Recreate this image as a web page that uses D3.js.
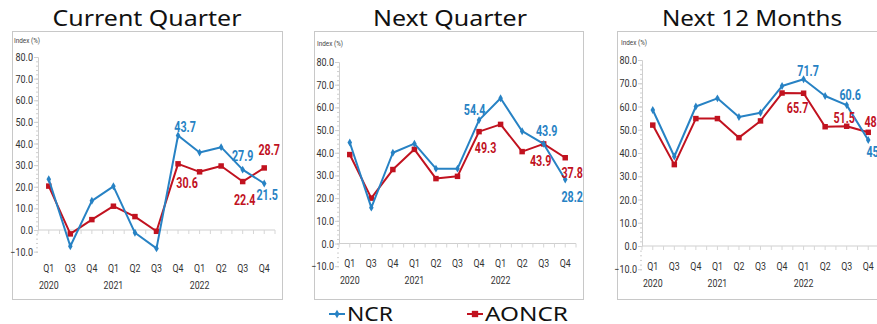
<!DOCTYPE html>
<html>
<head>
<meta charset="utf-8">
<script src="https://cdn.jsdelivr.net/npm/d3@7/dist/d3.min.js"></script>
<style>
  html, body { margin: 0; padding: 0; background: #ffffff; }
  svg { display: block; }
</style>
</head>
<body>
<svg id="chart" width="877" height="324"></svg>
<script>
// Quarter labels along the x axis and the year shown under the first quarter of each year
const quarters = ["Q1", "Q3", "Q4", "Q1", "Q2", "Q3", "Q4", "Q1", "Q2", "Q3", "Q4"];
const years    = ["2020", "", "", "2021", "", "", "", "2022", "", "", ""];
const yTicks   = [-10, 0, 10, 20, 30, 40, 50, 60, 70, 80];
const seriesNames = ["NCR", "AONCR"];
const panelTitles = ["Current Quarter", "Next Quarter", "Next 12 Months"];

// Index (%) values per panel
const ncrCurrent   = [23.5, -7.5, 13.5, 20.2, -1.3, -8.5, 43.7, 35.8, 38.3, 27.9, 21.5];
const aoncrCurrent = [20.3, -1.8, 4.8, 11.0, 6.2, -0.6, 30.6, 26.9, 29.6, 22.4, 28.7];
const ncrNextQ     = [44.5, 15.8, 40.0, 44.0, 33.0, 33.0, 54.4, 64.0, 49.5, 43.9, 28.2];
const aoncrNextQ   = [39.2, 20.0, 32.6, 41.5, 28.6, 29.6, 49.3, 52.5, 40.5, 43.9, 37.8];
const ncr12M       = [58.5, 38.5, 60.0, 63.5, 55.5, 57.3, 68.8, 71.7, 64.5, 60.6, 45.6];
const aoncr12M     = [52.0, 35.0, 54.8, 54.8, 46.6, 53.8, 65.8, 65.7, 51.3, 51.5, 48.9];

// Which points carry a value label: [series, index]
const labelsCurrent = [["NCR", 6], ["AONCR", 6], ["NCR", 9], ["AONCR", 10], ["AONCR", 9], ["NCR", 10]];
const labelsNextQ   = [["NCR", 6], ["AONCR", 6], ["NCR", 9], ["AONCR", 9], ["AONCR", 10], ["NCR", 10]];
const labels12M     = [["NCR", 7], ["AONCR", 7], ["NCR", 9], ["AONCR", 9], ["AONCR", 10], ["NCR", 10]];

const COLORS = { NCR: "#2782c4", AONCR: "#c1121f" };
const TICK_FONT = "Roboto, 'Liberation Sans', sans-serif";
const TITLE_FONT = "'Noto Sans', 'Open Sans', sans-serif";

// Layout of each panel (frame, plot extents, label offsets)
const layouts = [
  { frame: [12, 31, 270, 268], x0: 38, x1: 275, yZero: 230, yTop: 57, qBase: 272, yrBase: 289,
    titleX: 147, titleW: 189, idx: [14, 43],
    offsets: [[7, -3.5], [9, 24], [0, -9], [5, -13], [2, 23.5], [3, 16.5]] },
  { frame: [314, 31, 269, 268], x0: 339, x1: 576, yZero: 243.5, yTop: 62, qBase: 267, yrBase: 284,
    titleX: 450, titleW: 154, idx: [317, 46],
    offsets: [[-4.5, -5], [6.5, 21.5], [3, -8], [-3, 22], [7, 20], [7, 22.5]] },
  { frame: [617, 31, 280, 268], x0: 642, x1: 879, yZero: 246, yTop: 60, qBase: 270, yrBase: 287,
    titleX: 752, titleW: 180, idx: [621, 45],
    offsets: [[4.5, -3], [-6, 20], [3.5, -5], [-2.5, -3], [7, -5], [9, 17]] }
];

const panelData = [
  { NCR: ncrCurrent, AONCR: aoncrCurrent, labels: labelsCurrent },
  { NCR: ncrNextQ,   AONCR: aoncrNextQ,   labels: labelsNextQ },
  { NCR: ncr12M,     AONCR: aoncr12M,     labels: labels12M }
];

const svg = d3.select("#chart");

// Text drawn with a horizontal squeeze to get a condensed look
function squeezed(g, x, y, str, opts) {
  return g.append("text")
    .attr("transform", `translate(${x},${y}) scale(${opts.sx || 1},1)`)
    .attr("text-anchor", opts.anchor || "middle")
    .attr("font-family", opts.family || TICK_FONT)
    .attr("font-size", opts.size)
    .attr("font-weight", opts.weight || "normal")
    .attr("fill", opts.fill || "#333")
    .text(str);
}

panelData.forEach((pd, p) => {
  const L = layouts[p];
  const g = svg.append("g");
  const [fx, fy, fw, fh] = L.frame;

  // Panel frame
  g.append("rect")
    .attr("x", fx + 0.5).attr("y", fy + 0.5)
    .attr("width", fw).attr("height", fh)
    .attr("fill", "#fff").attr("stroke", "#c8c8c8").attr("stroke-width", 1);

  // Title
  g.append("text")
    .attr("x", L.titleX).attr("y", 26)
    .attr("text-anchor", "middle")
    .attr("font-family", TITLE_FONT)
    .attr("font-size", 22)
    .attr("font-weight", 400)
    .attr("fill", "#111")
    .attr("textLength", L.titleW)
    .attr("lengthAdjust", "spacingAndGlyphs")
    .text(panelTitles[p]);

  const x = d3.scaleBand().domain(d3.range(quarters.length)).range([L.x0, L.x1]).padding(0);
  const y = d3.scaleLinear().domain([0, 80]).range([L.yZero, L.yTop]);
  const cx = i => x(i) + x.bandwidth() / 2;

  // "Index (%)" caption
  squeezed(g, L.idx[0], L.idx[1], "Index (%)", { size: 7.5, sx: 0.85, anchor: "start", fill: "#444" });

  // Y axis: line, major and minor ticks, labels
  const yAxis = d3.axisLeft(y).tickValues(d3.range(-10, 81, 2)).tickSize(2).tickFormat("");
  const ya = g.append("g").attr("transform", `translate(${L.x0},0)`).call(yAxis);
  ya.select(".domain").attr("stroke", "#cfcfcf");
  ya.selectAll(".tick line").attr("stroke", "#cfcfcf");
  const yMajor = d3.axisLeft(y).tickValues(yTicks).tickSize(4).tickFormat("");
  const ym = g.append("g").attr("transform", `translate(${L.x0},0)`).call(yMajor);
  ym.select(".domain").remove();
  ym.selectAll(".tick line").attr("stroke", "#cfcfcf");
  yTicks.forEach(v => {
    squeezed(g, L.x0 - 5, y(v) + 4, d3.format(".1f")(v), { size: 11, sx: 0.82, anchor: "end", fill: "#333" });
  });

  // X axis along the zero line with light tick marks
  const xa = g.append("g").attr("transform", `translate(0,${y(0)})`);
  xa.append("line").attr("x1", L.x0).attr("x2", L.x1).attr("stroke", "#cfcfcf").attr("stroke-width", 1);
  d3.range(0, quarters.length * 2 + 1).forEach(k => {
    const tx = L.x0 + k * x.bandwidth() / 2;
    xa.append("line").attr("x1", tx).attr("x2", tx).attr("y1", 0).attr("y2", 4)
      .attr("stroke", "#d6d6d6").attr("stroke-width", 1);
  });
  quarters.forEach((q, i) => {
    squeezed(g, cx(i), L.qBase, q, { size: 11, sx: 0.8, fill: "#333" });
    if (years[i]) squeezed(g, cx(i), L.yrBase, years[i], { size: 11, sx: 0.8, fill: "#333" });
  });

  // Lines and markers: AONCR underneath, NCR on top
  const line = d3.line().x((d, i) => cx(i)).y(d => y(d));
  ["AONCR", "NCR"].forEach(name => {
    const vals = pd[name];
    g.append("path").datum(vals)
      .attr("d", line).attr("fill", "none")
      .attr("stroke", COLORS[name]).attr("stroke-width", 2)
      .attr("stroke-linejoin", "round");
    const sym = d3.symbol().type(name === "NCR" ? d3.symbolDiamond : d3.symbolSquare)
      .size(name === "NCR" ? 18 : 30);
    g.selectAll(null).data(vals).enter().append("path")
      .attr("d", sym)
      .attr("transform", (d, i) => `translate(${cx(i)},${y(d)})`)
      .attr("fill", COLORS[name]);
  });

  // Value labels
  pd.labels.forEach(([name, i], k) => {
    const v = pd[name][i];
    const [dx, dy] = L.offsets[k];
    squeezed(g, cx(i) + dx, y(v) + dy, d3.format(".1f")(v),
      { size: 14.5, sx: 0.74, weight: "bold", fill: COLORS[name] });
  });
});

// Legend
const legendItems = [
  { name: seriesNames[0], x: 329, textW: 46 },
  { name: seriesNames[1], x: 467, textW: 83 }
];
const lg = svg.append("g");
legendItems.forEach(it => {
  lg.append("line").attr("x1", it.x).attr("x2", it.x + 16).attr("y1", 314).attr("y2", 314)
    .attr("stroke", COLORS[it.name]).attr("stroke-width", 2);
  lg.append("path")
    .attr("d", d3.symbol().type(it.name === "NCR" ? d3.symbolDiamond : d3.symbolSquare).size(it.name === "NCR" ? 22 : 40))
    .attr("transform", `translate(${it.x + 8},314)`)
    .attr("fill", COLORS[it.name]);
  lg.append("text")
    .attr("x", it.x + 18).attr("y", 320.5)
    .attr("font-family", TITLE_FONT)
    .attr("font-size", 19)
    .attr("font-weight", 400)
    .attr("fill", "#111")
    .attr("textLength", it.textW)
    .attr("lengthAdjust", "spacingAndGlyphs")
    .text(it.name);
});
</script>
</body>
</html>
